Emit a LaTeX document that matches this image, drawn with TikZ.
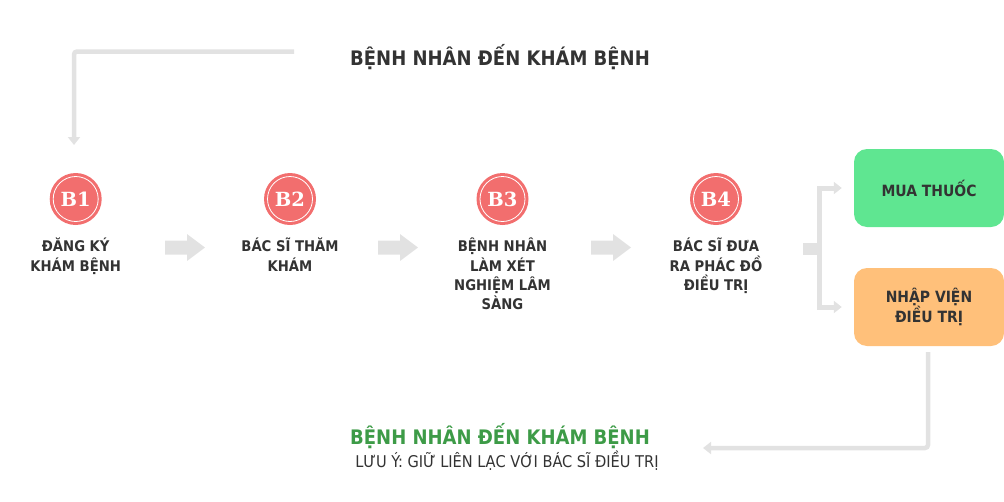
\documentclass[tikz,border=0pt]{standalone}
\usepackage{fontspec}
\setmainfont{DejaVu Sans Condensed}
\newfontfamily\serifb{DejaVu Serif}[BoldFont={DejaVu Serif Bold}]
\usetikzlibrary{arrows.meta}
\definecolor{txt}{RGB}{51,51,51}
\definecolor{ln}{RGB}{226,226,226}
\definecolor{circ}{RGB}{242,110,110}
\definecolor{grn}{RGB}{95,230,145}
\definecolor{org}{RGB}{255,192,122}
\definecolor{ttl}{RGB}{61,155,71}
\tikzset{
  stepcirc/.style={circle,fill=circ,minimum size=52pt,inner sep=0pt,text=white,
    font={\serifb\bfseries\fontsize{19.5}{20}\selectfont}},
  ring/.style={circle,draw=white,line width=0.8pt,minimum size=45pt,inner sep=0pt},
  lbl/.style={anchor=north,align=center,inner sep=0pt,text=txt,
    font={\bfseries\fontsize{14.7}{19.3}\selectfont}},
  boxnode/.style={rounded corners=13pt,minimum width=150pt,minimum height=78pt,inner sep=0pt,
    text=txt,align=center,font={\bfseries\fontsize{15.5}{19}\selectfont}},
  bigarrow/.style={fill=ln},
  conn/.style={draw=ln,line width=4.5pt,-{Triangle[width=12pt,length=8pt]}},
}
\newcommand{\fl}{\rule{0pt}{16pt}}
\begin{document}
\begin{tikzpicture}[x=1pt,y=-1pt]
\useasboundingbox (0,0) rectangle (1004,501);
% title
\node[text=txt,font={\bfseries\fontsize{20}{24}\selectfont}] (title) at (500,57) {BỆNH NHÂN ĐẾN KHÁM BỆNH};
% steps
\foreach \n/\x in {1/75.7,2/290,3/502.5,4/716}{
  \node[stepcirc] (c\n) at (\x,199) {B\n};
  \node[ring] at (c\n) {};
}
\node[lbl] (l1) at (75.7,235.7) {\fl ĐĂNG KÝ\\KHÁM BỆNH};
\node[lbl] (l2) at (290,235.7) {\fl BÁC SĨ THĂM\\KHÁM};
\node[lbl] (l3) at (502.5,235.7) {\fl BỆNH NHÂN\\LÀM XÉT\\NGHIỆM LÂM\\SÀNG};
\node[lbl] (l4) at (716,235.7) {\fl BÁC SĨ ĐƯA\\RA PHÁC ĐỒ\\ĐIỀU TRỊ};
% big arrows
\foreach \x in {165,378,591}{
  \fill[bigarrow] (\x,240.5) -- ++(22,0) -- ++(0,-6.5) -- ++(18,13.5) -- ++(-18,13.5) -- ++(0,-6.5) -- ++(-22,0) -- cycle;
}
% boxes
\node[boxnode,fill=grn] (mua) at (929,188) {MUA THUỐC};
\node[boxnode,fill=org] (nhap) at (929,307) {NHẬP VIỆN\\ĐIỀU TRỊ};
% bracket
\fill[ln] (803,243) rectangle (819,255);
\coordinate (br) at (819.5,249);
\draw[conn,line width=5pt,shorten >=12pt] (br) |- (mua.west);
\draw[conn,line width=5pt,shorten >=12pt] (br) |- (nhap.west);
% top connector
\coordinate (ts) at (294,51.5);
\coordinate (te) at (74,145);
\draw[conn,rounded corners=3pt] (ts) -| (te);
% bottom connector
\coordinate (bs) at (nhap.south -| 928,0);
\coordinate (be) at (703,448);
\draw[conn,rounded corners=3pt,shorten <=6pt] (bs) |- (be);
% bottom titles
\node[text=ttl,font={\bfseries\fontsize{20}{24}\selectfont}] (btitle) at (500,436) {BỆNH NHÂN ĐẾN KHÁM BỆNH};
\node[text=txt,font={\fontsize{16.2}{18}\selectfont}] (note) at (507,461) {LƯU Ý: GIỮ LIÊN LẠC VỚI BÁC SĨ ĐIỀU TRỊ};
\end{tikzpicture}
\end{document}
